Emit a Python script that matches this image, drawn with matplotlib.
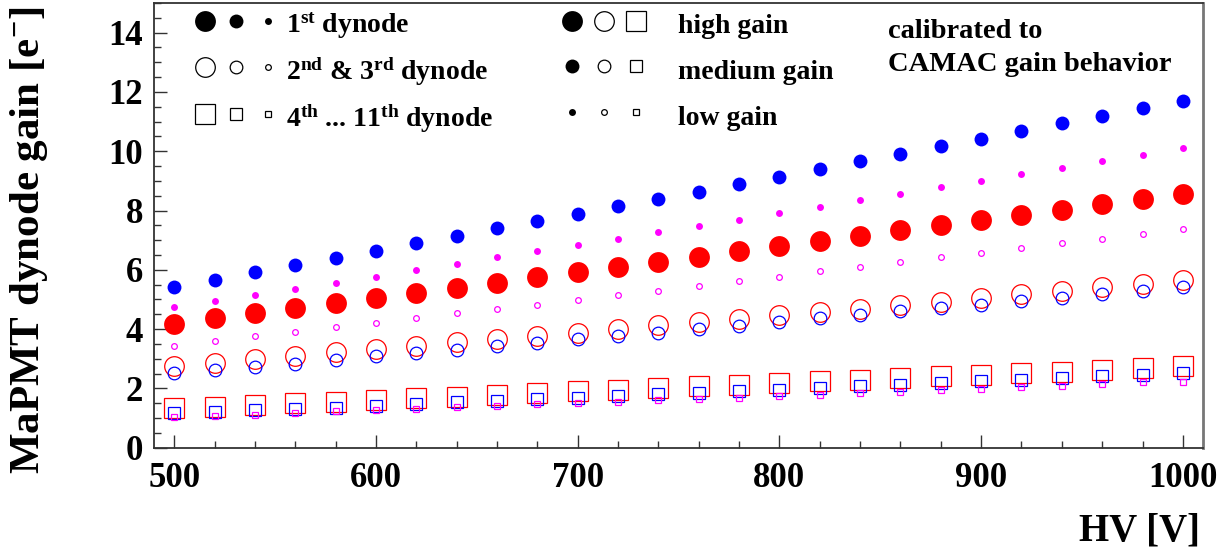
import matplotlib
matplotlib.use('Agg')
import matplotlib.pyplot as plt
from matplotlib.lines import Line2D
from matplotlib.legend_handler import HandlerTuple
from matplotlib.ticker import MultipleLocator

plt.rcParams['font.family'] = 'Liberation Serif'
plt.rcParams['font.weight'] = 'bold'
plt.rcParams['axes.labelweight'] = 'bold'
plt.rcParams['mathtext.fontset'] = 'custom'
plt.rcParams['mathtext.rm'] = 'Liberation Serif:bold'
plt.rcParams['mathtext.it'] = 'Liberation Serif:bold'
plt.rcParams['mathtext.bf'] = 'Liberation Serif:bold'

# high voltage steps [V]
hv = [500, 520, 540, 560, 580, 600, 620, 640, 660, 680, 700, 720, 740,
      760, 780, 800, 820, 840, 860, 880, 900, 920, 940, 960, 980, 1000]

# 1st dynode gain
dy1_high = [4.18, 4.36, 4.53, 4.70, 4.88, 5.05, 5.21, 5.40, 5.56, 5.76, 5.91, 6.08, 6.26,
            6.44, 6.62, 6.80, 6.98, 7.15, 7.33, 7.50, 7.68, 7.85, 8.03, 8.21, 8.39, 8.56]
dy1_med = [5.42, 5.67, 5.91, 6.15, 6.39, 6.63, 6.89, 7.15, 7.40, 7.64, 7.89, 8.14, 8.40,
           8.63, 8.89, 9.14, 9.41, 9.66, 9.90, 10.17, 10.42, 10.68, 10.94, 11.20, 11.46, 11.70]
dy1_low = [4.73, 4.94, 5.15, 5.36, 5.56, 5.77, 5.98, 6.18, 6.42, 6.62, 6.84, 7.04, 7.26,
           7.49, 7.68, 7.91, 8.12, 8.35, 8.56, 8.78, 8.99, 9.22, 9.43, 9.66, 9.86, 10.10]

# 2nd & 3rd dynode gain
dy2_high = [2.74, 2.87, 2.98, 3.09, 3.22, 3.34, 3.44, 3.56, 3.66, 3.78, 3.88, 4.00, 4.13,
            4.24, 4.35, 4.46, 4.59, 4.69, 4.81, 4.92, 5.05, 5.17, 5.27, 5.41, 5.52, 5.64]
dy2_med = [2.52, 2.61, 2.72, 2.84, 2.97, 3.08, 3.20, 3.31, 3.43, 3.54, 3.65, 3.77, 3.88,
           4.02, 4.11, 4.25, 4.37, 4.47, 4.60, 4.72, 4.81, 4.94, 5.06, 5.19, 5.30, 5.42]
dy2_low = [3.44, 3.61, 3.77, 3.90, 4.07, 4.22, 4.36, 4.53, 4.67, 4.83, 4.98, 5.15, 5.30,
           5.46, 5.61, 5.77, 5.95, 6.08, 6.25, 6.42, 6.57, 6.72, 6.89, 7.04, 7.21, 7.36]

# 4th ... 11th dynode gain
dy4_high = [1.34, 1.38, 1.44, 1.51, 1.55, 1.61, 1.67, 1.72, 1.78, 1.83, 1.90, 1.94, 2.01,
            2.08, 2.12, 2.18, 2.24, 2.30, 2.35, 2.41, 2.46, 2.52, 2.57, 2.63, 2.70, 2.74]
dy4_med = [1.17, 1.21, 1.26, 1.30, 1.35, 1.41, 1.46, 1.54, 1.59, 1.64, 1.68, 1.74, 1.81,
           1.85, 1.91, 1.96, 2.01, 2.08, 2.12, 2.18, 2.24, 2.28, 2.35, 2.41, 2.45, 2.52]
dy4_low = [1.03, 1.08, 1.12, 1.18, 1.23, 1.26, 1.32, 1.36, 1.42, 1.46, 1.50, 1.55, 1.60,
           1.63, 1.69, 1.74, 1.79, 1.83, 1.89, 1.94, 1.99, 2.05, 2.09, 2.14, 2.20, 2.23]

RED, BLUE, MAG = '#ff0000', '#0000ff', '#ff00ff'
SIZE = {'high': 15.0, 'med': 10.0, 'low': 5.0}
MEW = 0.9

fig = plt.figure(figsize=(12.32, 5.53), dpi=100)
ax = fig.add_axes([0.125, 0.1904, 0.8515, 0.8042])


def filled(y, color, gain):
    ax.plot(hv, y, ls='none', marker='o', ms=SIZE[gain], mfc=color, mec=color, mew=0)


def hollow(y, color, gain, marker):
    ax.plot(hv, y, ls='none', marker=marker, ms=SIZE[gain] - MEW, mfc='none', mec=color, mew=MEW)


filled(dy1_high, RED, 'high')
filled(dy1_med, BLUE, 'med')
filled(dy1_low, MAG, 'low')
hollow(dy2_high, RED, 'high', 'o')
hollow(dy2_med, BLUE, 'med', 'o')
hollow(dy2_low, MAG, 'low', 'o')
hollow(dy4_high, RED, 'high', 's')
hollow(dy4_med, BLUE, 'med', 's')
hollow(dy4_low, MAG, 'low', 's')

ax.set_xlim(490, 1010)
ax.set_ylim(0, 15)
ax.xaxis.set_major_locator(MultipleLocator(100))
ax.xaxis.set_minor_locator(MultipleLocator(20))
ax.yaxis.set_major_locator(MultipleLocator(2))
ax.yaxis.set_minor_locator(MultipleLocator(0.5))
ax.tick_params(which='both', direction='in', top=False, right=False, width=1.0, color='#333333')
ax.tick_params(which='major', length=9.5)
ax.tick_params(which='minor', length=5)
ax.tick_params(axis='x', labelsize=25, pad=10)
ax.tick_params(axis='y', labelsize=25, pad=8)
for side in ['left', 'bottom', 'top']:
    ax.spines[side].set_color('#333333')
    ax.spines[side].set_linewidth(1.3)
ax.spines['right'].set_color('#777777')
ax.spines['right'].set_linewidth(2.0)

ax.set_ylabel('MaPMT dynode gain [e$^{-}$]', fontsize=31, fontweight='bold', loc='top')
ax.yaxis.set_label_coords(-0.099, 0.993)
ax.set_xlabel('HV [V]', fontsize=28, fontweight='bold', loc='right')
ax.xaxis.set_label_coords(0.997, -0.145)


def key(marker, gain, fill):
    return Line2D([], [], ls='none', marker=marker, ms=SIZE[gain] if fill else SIZE[gain] - MEW,
                  mfc='k' if fill else 'none', mec='k', mew=0 if fill else MEW)


dyn_handles = [
    (key('o', 'high', True), key('o', 'med', True), key('o', 'low', True)),
    (key('o', 'high', False), key('o', 'med', False), key('o', 'low', False)),
    (key('s', 'high', False), key('s', 'med', False), key('s', 'low', False)),
]
dyn_labels = ['1$^{st}$ dynode', '2$^{nd}$ & 3$^{rd}$ dynode', '4$^{th}$ ... 11$^{th}$ dynode']

gain_handles = [
    (key('o', 'high', True), key('o', 'high', False), key('s', 'high', False)),
    (key('o', 'med', True), key('o', 'med', False), key('s', 'med', False)),
    (key('o', 'low', True), key('o', 'low', False), key('s', 'low', False)),
]
gain_labels = ['high gain', 'medium gain', 'low gain']

common = dict(frameon=False, fontsize=20, borderpad=0, borderaxespad=0,
              handleheight=1.4, labelspacing=0.49, loc='upper left',
              handler_map={tuple: HandlerTuple(ndivide=None, pad=0)})
leg1 = ax.legend(dyn_handles, dyn_labels, handlelength=3.4, handletextpad=0.1,
                 bbox_to_anchor=(0.0334, 0.989), **common)
ax.add_artist(leg1)
ax.legend(gain_handles, gain_labels, handlelength=3.45, handletextpad=0.95,
          bbox_to_anchor=(0.3832, 0.989), **common)

ax.text(0.6997, 0.9206, 'calibrated to', transform=ax.transAxes, fontsize=20.5, va='baseline')
ax.text(0.6997, 0.8471, 'CAMAC gain behavior', transform=ax.transAxes, fontsize=20.5,
        va='baseline')

fig.savefig('out.png', dpi=100)
